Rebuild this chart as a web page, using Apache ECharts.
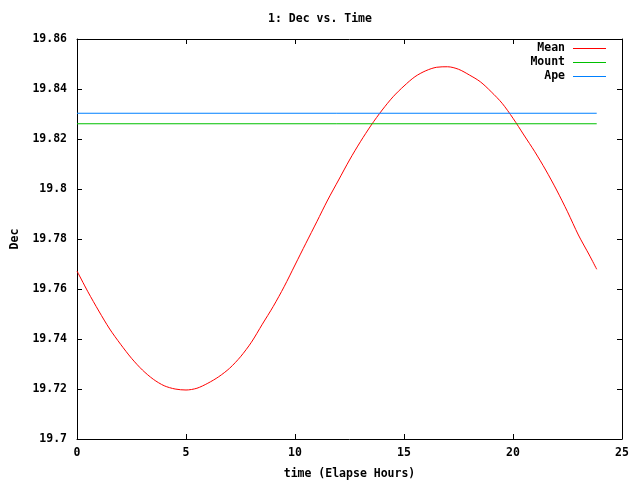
<!DOCTYPE html>
<html>
<head>
<meta charset="utf-8">
<script src="https://cdn.jsdelivr.net/npm/echarts@6/dist/echarts.min.js"></script>
<style>html,body{margin:0;padding:0;background:#fff}#c{width:640px;height:480px}</style>
</head>
<body>
<div id="c"></div>
<script>
const hours = [0, 0.5, 1, 1.5, 2, 2.5, 3, 3.5, 4, 4.5, 5, 5.5, 6, 6.5, 7, 7.5, 8, 8.5, 9, 9.5, 10, 10.5, 11, 11.5, 12, 12.5, 13, 13.5, 14, 14.5, 15, 15.5, 16, 16.5, 17, 17.5, 18, 18.5, 19, 19.5, 20, 20.5, 21, 21.5, 22, 22.5, 23, 23.5, 23.84];
const meanDec = [19.7672, 19.7589, 19.7512, 19.7440, 19.7379, 19.7323, 19.7276, 19.7239, 19.7213, 19.7200, 19.7196, 19.7203, 19.7223, 19.7249, 19.7283, 19.7329, 19.7387, 19.7459, 19.7530, 19.7609, 19.7696, 19.7783, 19.7869, 19.7956, 19.8036, 19.8116, 19.8189, 19.8256, 19.8316, 19.8369, 19.8412, 19.8449, 19.8473, 19.8487, 19.8489, 19.8479, 19.8456, 19.8429, 19.8389, 19.8343, 19.8283, 19.8216, 19.8149, 19.8076, 19.7996, 19.7909, 19.7816, 19.7736, 19.7679];
const mountX = [0, 23.84];
const mountDec = [19.8261, 19.8261];
const apeX = [0, 23.84];
const apeDec = [19.8303, 19.8303];
const seriesNames = ['Mean', 'Mount', 'Ape'];
const titleText = '1: Dec vs. Time';
const xName = 'time (Elapse Hours)';
const yName = 'Dec';

const FONT = '"DejaVu Sans Mono", "Liberation Mono", monospace';
const txt = {fontFamily: FONT, fontWeight: 'bold', fontSize: 11.5, color: '#000'};
const pair = (xs, ys) => xs.map((x, i) => [x, ys[i]]);
const fmtY = v => parseFloat(v.toFixed(2)).toString();

const chart = echarts.init(document.getElementById('c'), null, {renderer: 'canvas'});
chart.setOption({
  animation: false,
  backgroundColor: '#fff',
  title: {text: titleText, left: 'center', top: 8, textStyle: Object.assign({}, txt)},
  grid: {left: 77, right: 18, top: 39, bottom: 41, containLabel: false, outerBoundsMode: 'none'},
  legend: {
    orient: 'vertical', right: 29, top: 37, align: 'right',
    itemWidth: 33, itemHeight: 1, itemGap: 1, icon: 'rect',
    textStyle: Object.assign({}, txt, {lineHeight: 13, padding: [0, 3, 0, 0]}),
    data: seriesNames
  },
  xAxis: [{
    type: 'value', min: 0, max: 25, interval: 5, position: 'bottom',
    name: xName, nameLocation: 'middle', nameGap: 29, nameTextStyle: Object.assign({}, txt),
    axisLine: {show: true, onZero: false, lineStyle: {color: '#000', width: 1}},
    axisTick: {show: true, inside: true, length: 5, lineStyle: {color: '#000'}},
    axisLabel: Object.assign({margin: 8}, txt),
    splitLine: {show: false}
  }, {
    type: 'value', min: 0, max: 25, interval: 5, position: 'top',
    axisLine: {show: true, onZero: false, lineStyle: {color: '#000', width: 1}},
    axisTick: {show: true, inside: true, length: 5, lineStyle: {color: '#000'}},
    axisLabel: {show: false}, splitLine: {show: false}
  }],
  yAxis: [{
    type: 'value', min: 19.7, max: 19.86, interval: 0.02, position: 'left',
    name: yName, nameLocation: 'middle', nameGap: 56, nameRotate: 90, nameTextStyle: Object.assign({}, txt),
    axisLine: {show: true, onZero: false, lineStyle: {color: '#000', width: 1}},
    axisTick: {show: true, inside: true, length: 5, lineStyle: {color: '#000'}},
    axisLabel: Object.assign({margin: 10, formatter: fmtY}, txt),
    splitLine: {show: false}
  }, {
    type: 'value', min: 19.7, max: 19.86, interval: 0.02, position: 'right',
    axisLine: {show: true, onZero: false, lineStyle: {color: '#000', width: 1}},
    axisTick: {show: true, inside: true, length: 5, lineStyle: {color: '#000'}},
    axisLabel: {show: false}, splitLine: {show: false}
  }],
  series: [
    {name: seriesNames[0], type: 'line', data: pair(hours, meanDec), smooth: 0.3, showSymbol: false,
     itemStyle: {color: '#ff0000'}, lineStyle: {color: '#ff0000', width: 1}},
    {name: seriesNames[1], type: 'line', data: pair(mountX, mountDec), showSymbol: false,
     itemStyle: {color: '#00c000'}, lineStyle: {color: '#00c000', width: 1}},
    {name: seriesNames[2], type: 'line', data: pair(apeX, apeDec), showSymbol: false,
     itemStyle: {color: '#0080ff'}, lineStyle: {color: '#0080ff', width: 1}}
  ]
});
</script>
</body>
</html>
